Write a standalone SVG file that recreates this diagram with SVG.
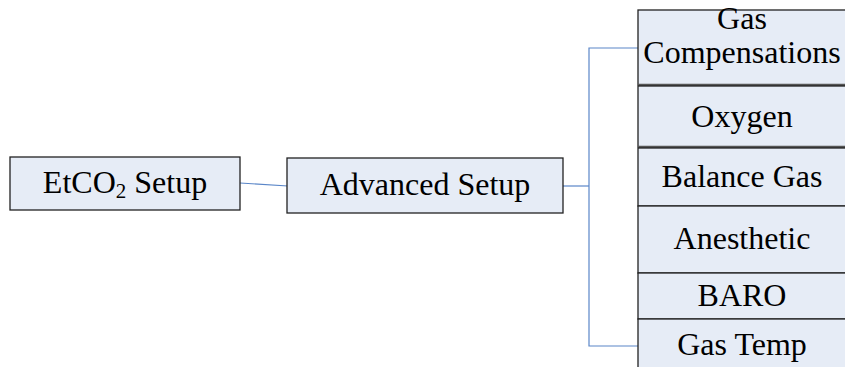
<svg xmlns="http://www.w3.org/2000/svg" width="845" height="367" viewBox="0 0 845 367">
<style>
.box{fill:#E6ECF6;stroke:#222;stroke-width:1.3}
.thick{stroke:#555;stroke-width:2.5}
.c{fill:none;stroke:#5A86C8;stroke-width:1.2}
</style>
<rect width="845" height="367" fill="#fff"/>
<g id="connectors">
<path class="c" d="M240,183 L288,186"/>
<path class="c" d="M563,186 L589,186"/>
<path class="c" d="M638,48 L589,48 L589,346 L638,346"/>
</g>
<g font-family="'Liberation Serif','Times New Roman',serif" font-size="32" text-anchor="middle" fill="#000">
<g id="etco2">
<rect class="box" x="10" y="157" width="230" height="53"/>
<text x="125" y="193">EtCO<tspan font-size="21" dy="5">2</tspan><tspan dy="-5"> Setup</tspan></text>
</g>
<g id="advanced">
<rect class="box" x="287" y="158" width="276" height="55"/>
<text x="425" y="195">Advanced Setup</text>
</g>
<g id="gascomp">
<rect class="box" x="638" y="10" width="210" height="75"/>
<line class="thick" x1="638" y1="85" x2="845" y2="85"/>
<text x="742" y="29">Gas</text>
<text x="742" y="63">Compensations</text>
</g>
<g id="oxygen">
<rect class="box" x="638" y="86" width="210" height="61"/>
<line class="thick" x1="638" y1="147" x2="845" y2="147"/>
<text x="742" y="127">Oxygen</text>
</g>
<g id="balance">
<rect class="box" x="638" y="148" width="210" height="58"/>
<text x="742" y="187">Balance Gas</text>
</g>
<g id="anesthetic">
<rect class="box" x="638" y="206" width="210" height="67"/>
<text x="742" y="249">Anesthetic</text>
</g>
<g id="baro">
<rect class="box" x="638" y="273" width="210" height="46"/>
<text x="742" y="306">BARO</text>
</g>
<g id="gastemp">
<rect class="box" x="638" y="319" width="210" height="60"/>
<text x="742" y="355">Gas Temp</text>
</g>
</g>
</svg>
